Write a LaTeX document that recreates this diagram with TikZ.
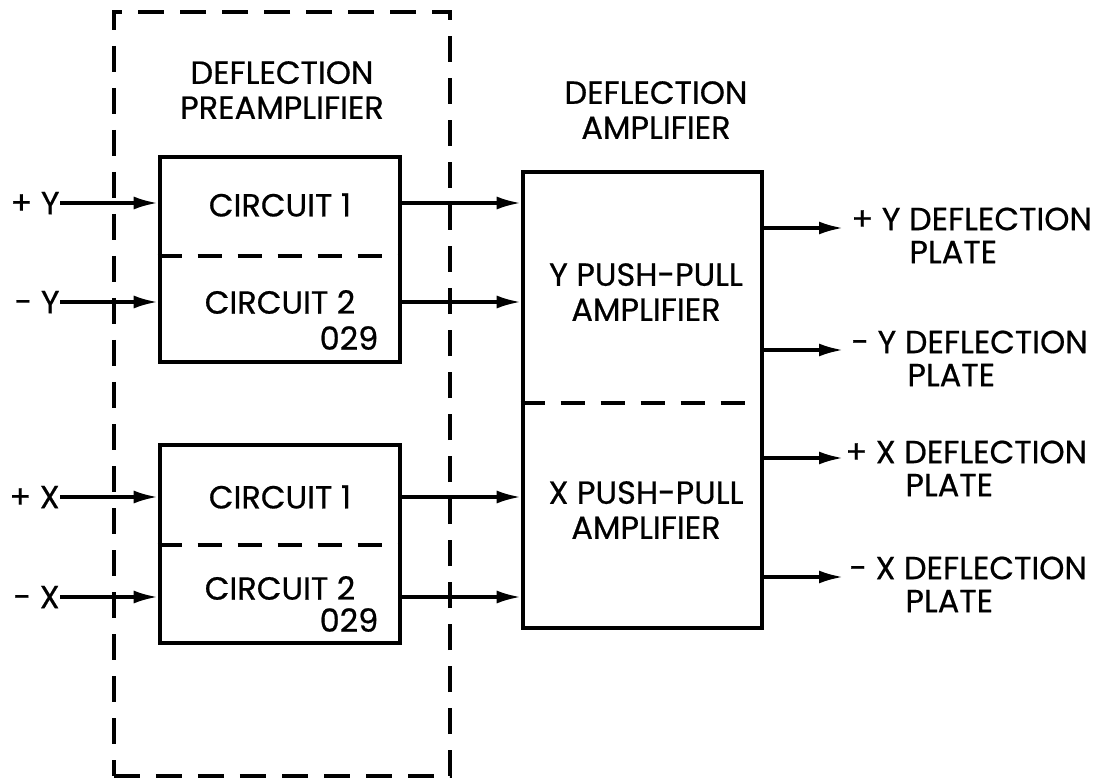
\documentclass[tikz,border=0pt]{standalone}
\usepackage{fontspec}
\setmainfont{Poppins}[FakeBold=0.6]
\usetikzlibrary{arrows.meta,positioning,calc}

\begin{document}
\begin{tikzpicture}[x=0.5bp,y=-0.5bp,
        lbl/.style={font=\fontsize{16bp}{17.5bp}\selectfont, inner sep=0pt},
        box/.style={draw, line width=2.3bp, inner sep=0pt},
        frame/.style={draw, line width=2.4bp, dash pattern=on 13bp off 8bp, inner sep=0pt},
        divider/.style={line width=2bp, dash pattern=on 12bp off 8bp},
        arr/.style={line width=1.6bp, -{Latex[length=12bp,width=6.5bp]}}]
        \useasboundingbox (0,0) rectangle (1102,780);
        % Preamplifier enclosure
        \node[frame, minimum width=168bp, minimum height=382bp] (pre) at (282,394) {};
        \node[lbl, align=center] (pretitle) at (282,90) {DEFLECTION\\PREAMPLIFIER};
        \node[lbl, align=center] (amptitle) at (656,110) {DEFLECTION\\AMPLIFIER};
        % Circuit boxes
        \node[box, minimum width=120bp, minimum height=102.5bp] (cy) at (280,259.5) {};
        \node[box, minimum width=120bp, minimum height=99bp] (cx) at (280,544) {};
        \draw[divider] (cy.west |- 0,256) -- (cy.east |- 0,256);
        \draw[divider] (cx.west |- 0,545) -- (cx.east |- 0,545);
        \node[lbl] (cy1) at (280,205) {CIRCUIT 1};
        \node[lbl] (cy2) at (280,302) {CIRCUIT 2};
        \node[lbl] (cyn) at (349,338) {029};
        \node[lbl] (cx1) at (280,497) {CIRCUIT 1};
        \node[lbl] (cx2) at (280,588) {CIRCUIT 2};
        \node[lbl] (cxn) at (349,620) {029};
        % Amplifier box
        \node[box, minimum width=119.5bp, minimum height=228bp] (amp) at (642.5,400) {};
        \draw[divider] (amp.west |- 0,403) -- (amp.east |- 0,403);
        \node[lbl, align=center] (ytxt) at (646,292) {Y PUSH-PULL\\AMPLIFIER};
        \node[lbl, align=center] (xtxt) at (646,510) {X PUSH-PULL\\AMPLIFIER};
        % Inputs
        \node[lbl, anchor=east] (iny1) at (60,203) {+ Y};
        \node[lbl, anchor=east] (iny2) at (60,302) {- Y};
        \node[lbl, anchor=east] (inx1) at (60,497) {+ X};
        \node[lbl, anchor=east] (inx2) at (60,597) {- X};
        \draw[arr] (iny1.east) -- (iny1.east -| cy.west);
        \draw[arr] (iny2.east) -- (iny2.east -| cy.west);
        \draw[arr] (inx1.east) -- (inx1.east -| cx.west);
        \draw[arr] (inx2.east) -- (inx2.east -| cx.west);
        % Preamplifier to amplifier
        \draw[arr] (cy.east |- iny1) -- (amp.west |- iny1);
        \draw[arr] (cy.east |- iny2) -- (amp.west |- iny2);
        \draw[arr] (cx.east |- inx1) -- (amp.west |- inx1);
        \draw[arr] (cx.east |- inx2) -- (amp.west |- inx2);
        % Outputs to plates
        \coordinate (tpy) at (843,228);
        \coordinate (tmy) at (843,350);
        \coordinate (tpx) at (843,458);
        \coordinate (tmx) at (843,577);
        \draw[arr] (amp.east |- tpy) -- (tpy);
        \draw[arr] (amp.east |- tmy) -- (tmy);
        \draw[arr] (amp.east |- tpx) -- (tpx);
        \draw[arr] (amp.east |- tmx) -- (tmx);
        \node[lbl, anchor=west] (opy) at ([xshift=4bp,yshift=4.5bp]tpy) {+ Y DEFLECTION};
        \node[lbl, anchor=west] (omy) at ([xshift=4bp,yshift=4bp]tmy) {- Y DEFLECTION};
        \node[lbl, anchor=west] (opx) at ([xshift=1bp,yshift=3bp]tpx) {+ X DEFLECTION};
        \node[lbl, anchor=west] (omx) at ([xshift=3bp,yshift=4.5bp]tmx) {- X DEFLECTION};
        \node[lbl, anchor=west] (opyp) at ([xshift=29bp,yshift=-16.5bp]opy.west) {PLATE};
        \node[lbl, anchor=west] (omyp) at ([xshift=28bp,yshift=-16.5bp]omy.west) {PLATE};
        \node[lbl, anchor=west] (opxp) at ([xshift=30bp,yshift=-16.5bp]opx.west) {PLATE};
        \node[lbl, anchor=west] (omxp) at ([xshift=28bp,yshift=-16.5bp]omx.west) {PLATE};
    \end{tikzpicture}
\end{document}
